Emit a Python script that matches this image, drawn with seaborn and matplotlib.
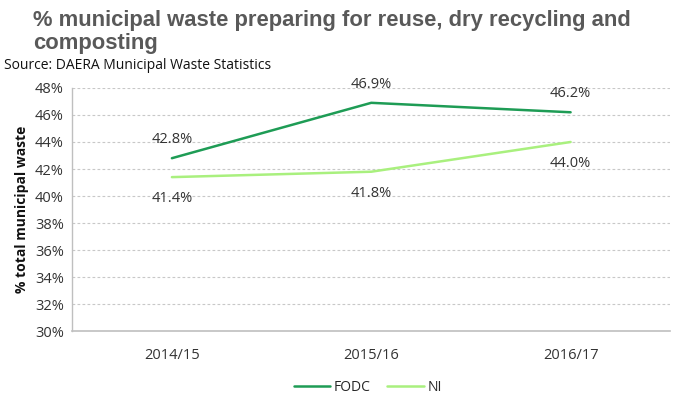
import matplotlib
matplotlib.use("Agg")
import matplotlib.pyplot as plt
import seaborn as sns
import pandas as pd
from matplotlib.ticker import FuncFormatter, FixedLocator
from matplotlib.lines import Line2D

years = ["2014/15", "2015/16", "2016/17"]
fodc = [42.8, 46.9, 46.2]
ni = [41.4, 41.8, 44.0]
series_names = ["FODC", "NI"]
colors = {"FODC": "#1E9C55", "NI": "#A9F07E"}

df = pd.DataFrame({
    "year": years * 2,
    "value": fodc + ni,
    "series": [series_names[0]] * len(years) + [series_names[1]] * len(years),
})

sns.set_theme(style="white")
plt.rcParams["font.family"] = ["Open Sans", "DejaVu Sans"]

fig = plt.figure(figsize=(6.75, 3.98), dpi=100)
ax = fig.add_axes([0.107, 0.168, 0.886, 0.611])

sns.lineplot(data=df, x="year", y="value", hue="series", palette=colors,
             linewidth=1.8, ax=ax, legend=False, sort=False)

ax.set_xlim(-0.5, 2.5)
ax.set_ylim(30, 48)
ax.set_yticks(range(30, 49, 2))
ax.yaxis.set_major_formatter(FuncFormatter(lambda v, p: f"{v:.0f}%"))
ax.set_xticks(range(len(years)))
ax.set_xticklabels(years)
ax.xaxis.set_minor_locator(FixedLocator([-0.5, 0.5, 1.5, 2.5]))
ax.tick_params(axis="x", which="major", length=0, pad=12, labelsize=10.5)
ax.tick_params(axis="x", which="minor", length=4, color="#bfbfbf", width=1, direction="out")
ax.tick_params(axis="y", which="major", length=4, color="#bfbfbf", labelsize=10.5, pad=2)
for t in ax.get_yticklabels() + ax.get_xticklabels():
    t.set_color("#333333")

ax.grid(axis="y", color="#c8c8c8", linestyle=(0, (2.5, 2)), linewidth=0.8)
for s in ["top", "right"]:
    ax.spines[s].set_visible(False)
ax.spines["left"].set_color("#bfbfbf")
ax.spines["bottom"].set_color("#bfbfbf")
ax.spines["left"].set_linewidth(1)
ax.spines["bottom"].set_linewidth(1.2)

ax.set_xlabel("")
ax.set_ylabel("% total municipal waste", fontsize=10, fontweight="bold", color="#111111", labelpad=4)

for i, v in enumerate(fodc):
    ax.annotate(f"{v:.1f}%", (i, v), xytext=(0, 8), textcoords="offset points",
                ha="center", va="bottom", fontsize=10.5, color="#333333")
for i, v in enumerate(ni):
    ax.annotate(f"{v:.1f}%", (i, v), xytext=(0, -10), textcoords="offset points",
                ha="center", va="top", fontsize=10.5, color="#333333")

fig.text(0.049, 0.975, "% municipal waste preparing for reuse, dry recycling and\ncomposting",
         ha="left", va="top", fontsize=15.8, fontweight="bold", color="#595959",
         family=["Liberation Sans", "DejaVu Sans"], linespacing=1.12)
fig.text(0.006, 0.836, "Source: DAERA Municipal Waste Statistics", ha="left", va="center",
         fontsize=10, color="#111111")

handles = [Line2D([0], [0], color=colors[n], lw=1.8) for n in series_names]
fig.legend(handles, series_names, loc="center", bbox_to_anchor=(0.545, 0.027), ncol=2,
           frameon=False, fontsize=10, handlelength=2.6, columnspacing=1.2, handletextpad=0.3)

fig.savefig("out.png", dpi=100)
